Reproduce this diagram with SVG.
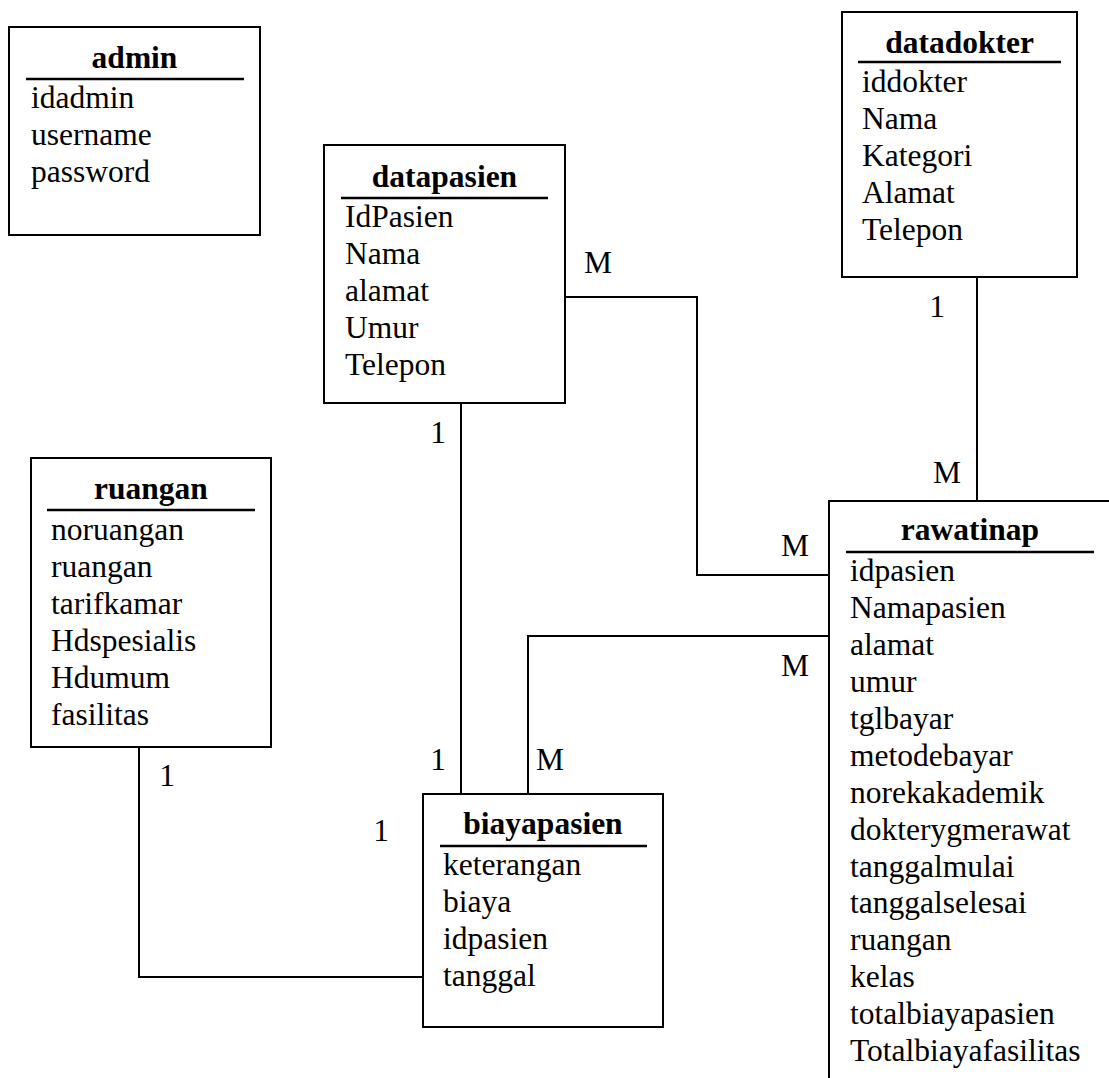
<svg xmlns="http://www.w3.org/2000/svg" width="1109" height="1078" viewBox="0 0 1109 1078">
  <style>
    .box { fill: #ffffff; stroke: #000000; stroke-width: 2; }
    .rule { stroke: #000000; stroke-width: 2.5; }
    .link { fill: none; stroke: #000000; stroke-width: 2; }
    text { font-family: "Liberation Serif", "Times New Roman", serif; font-size: 31.5px; fill: #000000; }
    .title { font-weight: bold; text-anchor: middle; }
    .card { text-anchor: middle; }
  </style>
  <rect x="0" y="0" width="1109" height="1078" fill="#ffffff"/>

  <!-- relationship lines -->
  <g id="connectors">
    <!-- datapasien M : M rawatinap -->
    <polyline class="link" points="565,297 697,297 697,575 829,575"/>
    <!-- rawatinap M : M biayapasien -->
    <polyline class="link" points="829,636 528,636 528,794"/>
    <!-- datapasien 1 : 1 biayapasien -->
    <line class="link" x1="461" y1="403" x2="461" y2="794"/>
    <!-- datadokter 1 : M rawatinap -->
    <line class="link" x1="977" y1="277" x2="977" y2="501"/>
    <!-- ruangan 1 : 1 biayapasien -->
    <polyline class="link" points="139,747 139,977 423,977"/>

    <text class="card" x="598" y="273">M</text>
    <text class="card" x="795" y="556">M</text>
    <text class="card" x="795" y="676">M</text>
    <text class="card" x="550" y="770">M</text>
    <text class="card" x="438" y="443">1</text>
    <text class="card" x="438" y="770">1</text>
    <text class="card" x="937" y="317">1</text>
    <text class="card" x="947" y="483">M</text>
    <text class="card" x="167" y="786">1</text>
    <text class="card" x="381" y="841">1</text>
  </g>

  <g id="admin">
    <rect class="box" x="9" y="27" width="251" height="208"/>
    <text class="title" x="134.5" y="68">admin</text>
    <line class="rule" x1="26" y1="79" x2="244" y2="79"/>
    <text x="31" y="108">idadmin</text>
    <text x="31" y="145">username</text>
    <text x="31" y="182">password</text>
  </g>

  <g id="datapasien">
    <rect class="box" x="324" y="145" width="241" height="258"/>
    <text class="title" x="444.5" y="187">datapasien</text>
    <line class="rule" x1="341" y1="198" x2="548" y2="198"/>
    <text x="345" y="227">IdPasien</text>
    <text x="345" y="264">Nama</text>
    <text x="345" y="301">alamat</text>
    <text x="345" y="338">Umur</text>
    <text x="345" y="375">Telepon</text>
  </g>

  <g id="datadokter">
    <rect class="box" x="842" y="12" width="235" height="265"/>
    <text class="title" x="959.5" y="53">datadokter</text>
    <line class="rule" x1="858" y1="62" x2="1061" y2="62"/>
    <text x="862" y="92">iddokter</text>
    <text x="862" y="129">Nama</text>
    <text x="862" y="166">Kategori</text>
    <text x="862" y="203">Alamat</text>
    <text x="862" y="240">Telepon</text>
  </g>

  <g id="ruangan">
    <rect class="box" x="31" y="458" width="240" height="289"/>
    <text class="title" x="151" y="499">ruangan</text>
    <line class="rule" x1="47" y1="510" x2="255" y2="510"/>
    <text x="51" y="540">noruangan</text>
    <text x="51" y="577">ruangan</text>
    <text x="51" y="614">tarifkamar</text>
    <text x="51" y="651">Hdspesialis</text>
    <text x="51" y="688">Hdumum</text>
    <text x="51" y="725">fasilitas</text>
  </g>

  <g id="biayapasien">
    <rect class="box" x="423" y="794" width="240" height="233"/>
    <text class="title" x="543" y="834">biayapasien</text>
    <line class="rule" x1="440" y1="846" x2="647" y2="846"/>
    <text x="443" y="875">keterangan</text>
    <text x="443" y="912">biaya</text>
    <text x="443" y="949">idpasien</text>
    <text x="443" y="986">tanggal</text>
  </g>

  <g id="rawatinap">
    <rect class="box" x="829" y="501" width="300" height="600"/>
    <text class="title" x="970" y="540">rawatinap</text>
    <line class="rule" x1="846" y1="552" x2="1094" y2="552"/>
    <text x="850" y="581">idpasien</text>
    <text x="850" y="618">Namapasien</text>
    <text x="850" y="655">alamat</text>
    <text x="850" y="692">umur</text>
    <text x="850" y="729">tglbayar</text>
    <text x="850" y="766">metodebayar</text>
    <text x="850" y="803">norekakademik</text>
    <text x="850" y="840">dokterygmerawat</text>
    <text x="850" y="877">tanggalmulai</text>
    <text x="850" y="913">tanggalselesai</text>
    <text x="850" y="950">ruangan</text>
    <text x="850" y="987">kelas</text>
    <text x="850" y="1024">totalbiayapasien</text>
    <text x="850" y="1061">Totalbiayafasilitas</text>
  </g>
</svg>
